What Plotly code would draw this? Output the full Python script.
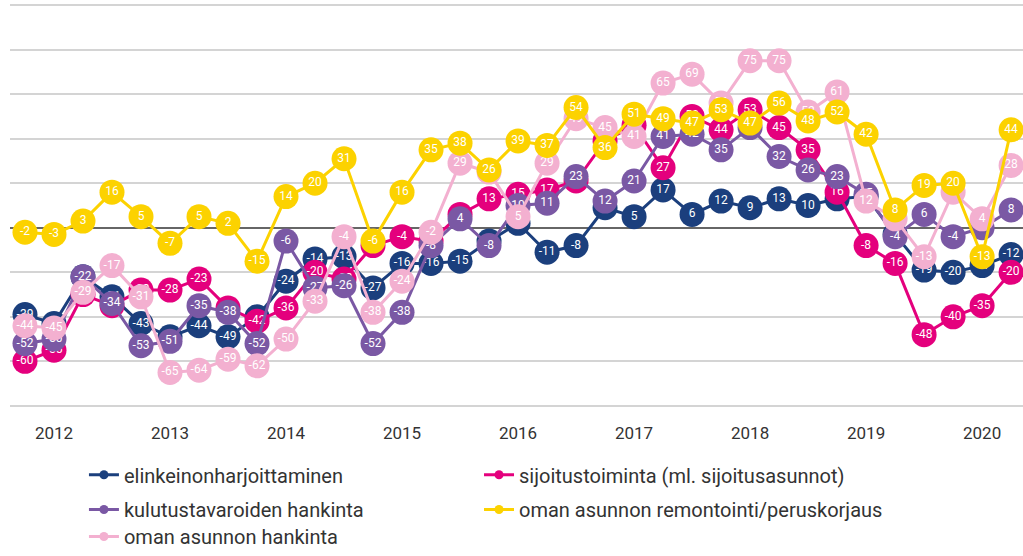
import plotly.graph_objects as go

# quarter index 0..34 ; year labels sit on the 2nd quarter of each year
quarters = list(range(35))
year_ticks = [1, 5, 9, 13, 17, 21, 25, 29, 33]
year_labels = ["2012", "2013", "2014", "2015", "2016", "2017", "2018", "2019", "2020"]

elinkeino = [-39, -43, -22, -31, -43, -49, -44, -49, -40, -24, -14, -13, -27, -16, -16, -15, -6, 2,
             -11, -8, 9, 5, 17, 6, 12, 9, 13, 10, 13, 14, -3, -19, -20, -17, -12]
sijoitus = [-60, -55, -30, -35, -28, -28, -23, -36, -42, -36, -20, -23, -8, -4, -6, 6, 13, 15,
            17, 21, 39, 46, 27, 50, 44, 53, 45, 35, 16, -8, -16, -48, -40, -35, -20]
kulutus = [-52, -50, -22, -34, -53, -51, -35, -38, -52, -6, -27, -26, -52, -38, -8, 4, -8, 10,
           11, 23, 12, 21, 41, 42, 35, 45, 32, 26, 23, 15, -4, 6, -4, 0, 8]
remontointi = [-2, -3, 3, 16, 5, -7, 5, 2, -15, 14, 20, 31, -6, 16, 35, 38, 26, 39,
               37, 54, 36, 51, 49, 47, 53, 47, 56, 48, 52, 42, 8, 19, 20, -13, 44]
hankinta = [-44, -45, -29, -17, -31, -65, -64, -59, -62, -50, -33, -4, -38, -24, -2, 29, 25, 5,
            29, 49, 45, 41, 65, 69, 56, 75, 75, 52, 61, 12, 4, -13, 16, 4, 28]

names = ["elinkeinonharjoittaminen", "sijoitustoiminta (ml. sijoitusasunnot)",
         "kulutustavaroiden hankinta", "oman asunnon remontointi/peruskorjaus",
         "oman asunnon hankinta"]
colors = {"elinkeinonharjoittaminen": "#1b3f7d",
          "sijoitustoiminta (ml. sijoitusasunnot)": "#e4007d",
          "kulutustavaroiden hankinta": "#7a58a4",
          "oman asunnon remontointi/peruskorjaus": "#fcd200",
          "oman asunnon hankinta": "#f3b0d0"}
series = {"elinkeinonharjoittaminen": elinkeino,
          "sijoitustoiminta (ml. sijoitusasunnot)": sijoitus,
          "kulutustavaroiden hankinta": kulutus,
          "oman asunnon remontointi/peruskorjaus": remontointi,
          "oman asunnon hankinta": hankinta}
legend_ids = ["legend", "legend2", "legend3", "legend4", "legend5"]

draw_order = ["elinkeinonharjoittaminen", "sijoitustoiminta (ml. sijoitusasunnot)",
              "kulutustavaroiden hankinta", "oman asunnon hankinta",
              "oman asunnon remontointi/peruskorjaus"]

fig = go.Figure()
for n in draw_order:
    fig.add_trace(go.Scatter(
        x=quarters, y=series[n], mode="lines+markers+text",
        line=dict(color=colors[n], width=3),
        marker=dict(color=colors[n], size=25),
        text=[str(v) for v in series[n]], textposition="middle center",
        textfont=dict(color="white", size=12, family="Roboto"),
        cliponaxis=False, showlegend=False, hoverinfo="skip"))

for n, lid in zip(names, legend_ids):
    fig.add_trace(go.Scatter(
        x=[None], y=[None], mode="lines+markers", name=n,
        line=dict(color=colors[n], width=3),
        marker=dict(color=colors[n], size=9),
        legend=lid))

def leg(x, y, anchor="middle"):
    return dict(orientation="h", x=x, y=y, xanchor="left", yanchor=anchor,
                font=dict(size=20, color="#333333"), bgcolor="rgba(0,0,0,0)")

col1, col2 = 0.073, 0.463
row1, row2 = -0.168, -0.2543
row3_bottom = -0.371

fig.update_layout(
    width=1023, height=556,
    margin=dict(l=10, r=0, t=4, b=145),
    plot_bgcolor="white", paper_bgcolor="white",
    font=dict(family="Roboto", color="#333333"),
    showlegend=True,
    legend=leg(col1, row1),
    legend2=leg(col2, row1),
    legend3=leg(col1, row2),
    legend4=leg(col2, row2),
    legend5=leg(col1, row3_bottom, "bottom"),
    xaxis=dict(range=[-0.517, 34.41], tickmode="array", tickvals=year_ticks,
               ticktext=year_labels, showgrid=False, zeroline=False, ticks="",
               tickfont=dict(size=17, color="#333333"), ticklabelstandoff=14,
               showline=False),
    yaxis=dict(range=[-80.5, 100.5], tickmode="array",
               tickvals=[-80, -60, -40, -20, 0, 20, 40, 60, 80, 100],
               showgrid=True, gridcolor="#d4d4d4",
               gridwidth=2, zeroline=True, zerolinecolor="#666666", zerolinewidth=2,
               showticklabels=False, ticks=""),
)

fig.write_html("out.html", config={"displayModeBar": False},
               post_script="document.body.style.margin='0';document.body.style.overflow='hidden';")
